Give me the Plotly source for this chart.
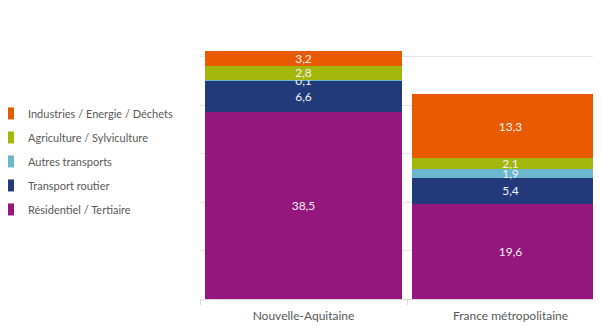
import plotly.graph_objects as go

regions = ["Nouvelle-Aquitaine", "France métropolitaine"]

# secteurs, du bas vers le haut de la pile
residentiel = [38.5, 19.6]
transport_routier = [6.6, 5.4]
autres_transports = [0.1, 1.9]
agriculture = [2.8, 2.1]
industries = [3.2, 13.3]

series = [
    ("Résidentiel / Tertiaire", residentiel, "#95177E"),
    ("Transport routier", transport_routier, "#233A7A"),
    ("Autres transports", autres_transports, "#6BB8CE"),
    ("Agriculture / Sylviculture", agriculture, "#A3B70A"),
    ("Industries / Energie / Déchets", industries, "#E85A00"),
]

fig = go.Figure()
for i, (nom, vals, coul) in enumerate(series):
    fig.add_trace(go.Bar(
        x=regions, y=vals, name=nom, legendgroup=nom,
        legendrank=1000 - i,  # legend lists the top of the stack first
        marker=dict(color=coul, line=dict(width=0)),
        texttemplate="%{y:.1f}", textposition="inside",
        insidetextanchor="middle", constraintext="none",
        textfont=dict(family="Lato", size=12, color="#F2F2F2"),
        hoverinfo="skip",
    ))

# the page body adds an 8px offset, margins compensate for it
fig.update_layout(
    barmode="stack",
    bargap=0.048,
    width=601, height=326,
    margin=dict(l=192, r=8, t=0, b=35, autoexpand=False),
    paper_bgcolor="white", plot_bgcolor="white",
    separators=", ",
    font=dict(family="Lato", size=12, color="#595959"),
    legend=dict(
        xref="paper", yref="container",
        x=-0.4913, xanchor="left", y=0.721, yanchor="top",
        traceorder="grouped", tracegroupgap=5, indentation=-15,
        font=dict(family="Lato", size=11, color="#595959"),
    ),
    xaxis=dict(
        range=[-0.5, 1.437], showline=True, linecolor="#D9D9D9",
        ticks="outside", tickson="boundaries", ticklen=5, tickcolor="#D9D9D9",
        tickfont=dict(size=12, color="#595959"), ticklabelstandoff=6,
        showgrid=False, automargin=False,
    ),
    yaxis=dict(
        range=[0, 60], dtick=10, showgrid=True, gridcolor="#E6E6E6",
        showticklabels=False, zeroline=False, automargin=False,
    ),
)

fig.write_html("out.html")
